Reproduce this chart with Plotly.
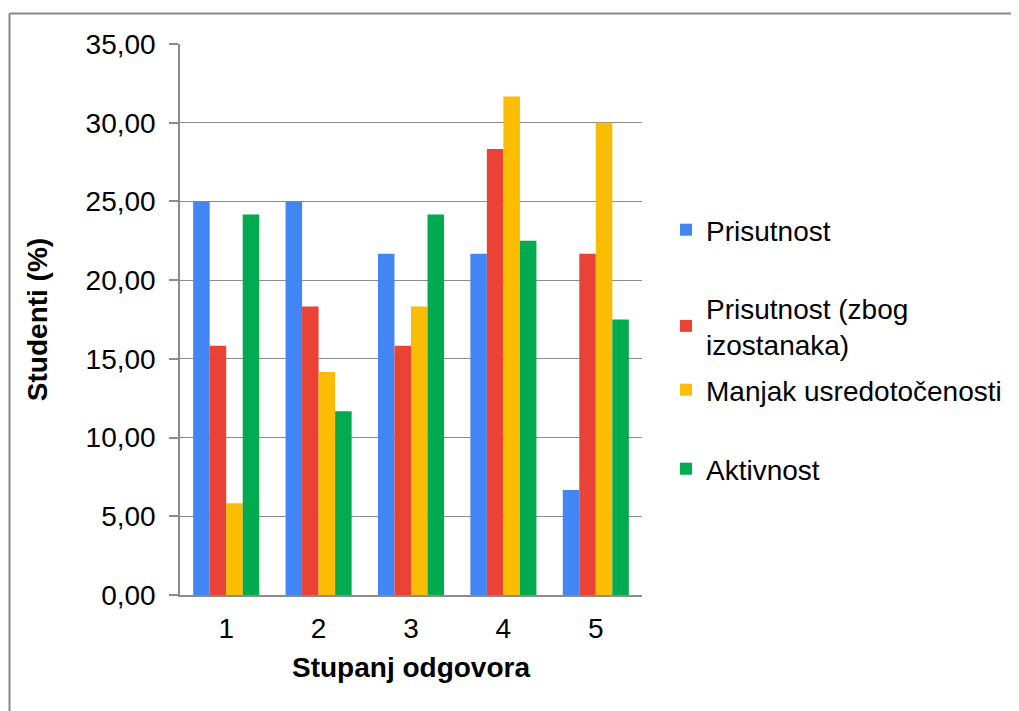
import plotly.graph_objects as go

categories = ["1", "2", "3", "4", "5"]
series_names = ["Prisutnost", "Prisutnost (zbog<br>izostanaka)", "Manjak usredotočenosti", "Aktivnost"]
prisutnost = [25.00, 25.00, 21.67, 21.67, 6.67]
prisutnost_izostanci = [15.83, 18.33, 15.83, 28.33, 21.67]
manjak_usredotocenosti = [5.83, 14.17, 18.33, 31.67, 30.00]
aktivnost = [24.17, 11.67, 24.17, 22.50, 17.50]
colors = ["#4285F4", "#EA4335", "#FBBC04", "#00AA4E"]
y_ticks = [0, 5, 10, 15, 20, 25, 30, 35]
y_tick_labels = ["0,00", "5,00", "10,00", "15,00", "20,00", "25,00", "30,00", "35,00"]

OFF = 8  # page body margin
W, H = 1019 - OFF, 711 - OFF
L, R, T, B = 180 - OFF, 642 - OFF, 44 - OFF, 595 - OFF
FONT = "Liberation Sans, Arial, sans-serif"
FS = 28

def px(x):
    return (x - OFF - L) / (R - L)

def py(y):
    return (B - (y - OFF)) / (B - T)

fig = go.Figure()
all_series = [prisutnost, prisutnost_izostanci, manjak_usredotocenosti, aktivnost]
legend_ids = ["legend", "legend2", "legend3", "legend4"]
legend_centers = [230, 326, 390, 469]
for name, vals, col, lid in zip(series_names, all_series, colors, legend_ids):
    fig.add_trace(go.Bar(x=categories, y=vals, name=name, marker_color=col,
                         marker_line_width=0, legend=lid))

layout_legends = {}
for lid, yc in zip(legend_ids, legend_centers):
    layout_legends[lid] = dict(x=px(666), xanchor="left", y=py(yc), yanchor="middle",
                               font=dict(family=FONT, size=FS, color="#000000"),
                               bgcolor="rgba(0,0,0,0)", itemwidth=30, itemclick=False)

fig.update_layout(
    width=W, height=H,
    margin=dict(l=L, r=W - R, t=T, b=H - B, pad=0),
    plot_bgcolor="white", paper_bgcolor="white",
    barmode="group", bargap=0.285, bargroupgap=0,
    font=dict(family=FONT, size=FS, color="#000000"),
    showlegend=True,
    **layout_legends,
    xaxis=dict(
        showline=True, linecolor="#8C8C8C", linewidth=1.5,
        ticks="outside", ticklen=8, tickcolor="rgba(0,0,0,0)",
        tickfont=dict(family=FONT, size=FS, color="#000000"),
        title=dict(text="<b>Stupanj odgovora</b>", font=dict(family=FONT, size=FS, color="#000000"), standoff=14),
        showgrid=False, zeroline=False,
    ),
    yaxis=dict(
        range=[0, 35], tickvals=y_ticks, ticktext=y_tick_labels,
        showline=True, linecolor="#8C8C8C", linewidth=1.5,
        ticks="outside", ticklen=9, tickcolor="#8C8C8C", tickwidth=1.5,
        ticklabelstandoff=8,
        showgrid=True, gridcolor="#8C8C8C", gridwidth=1.2, zeroline=False,
        tickfont=dict(family=FONT, size=FS, color="#000000"),
        title=dict(text="<b>Studenti (%)</b>", font=dict(family=FONT, size=FS, color="#000000"), standoff=30),
    ),
)

# outer border (top and left edges visible)
fig.add_shape(type="line", xref="paper", yref="paper", x0=px(9.5), x1=px(1030), y0=py(13.5), y1=py(13.5),
              line=dict(color="#888888", width=2))
fig.add_shape(type="line", xref="paper", yref="paper", x0=px(9.5), x1=px(9.5), y0=py(13.5), y1=py(730),
              line=dict(color="#888888", width=2))

fig.write_html("out.html")
